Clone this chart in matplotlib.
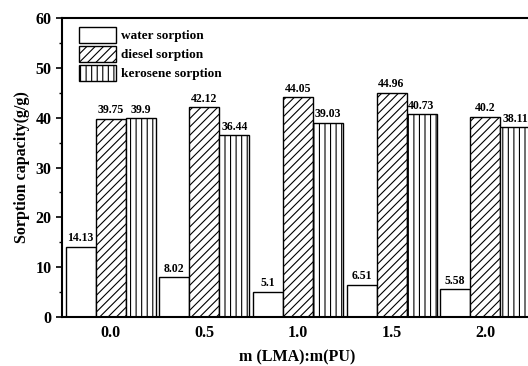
import numpy as np
import matplotlib.pyplot as plt
from matplotlib.ticker import MultipleLocator

plt.rcParams['font.family'] = 'Liberation Serif'
plt.rcParams['font.weight'] = 'bold'
plt.rcParams['hatch.linewidth'] = 0.8

# data
ratios = ['0.0', '0.5', '1.0', '1.5', '2.0']
water = [14.13, 8.02, 5.1, 6.51, 5.58]
diesel = [39.75, 42.12, 44.05, 44.96, 40.2]
kerosene = [39.9, 36.44, 39.03, 40.73, 38.11]

fig = plt.figure(figsize=(5.28, 3.66), dpi=100)
ax = fig.add_axes([62 / 528, 49 / 366, 470 / 528, 299 / 366])

x = np.arange(len(ratios))
w = 0.32
b1 = ax.bar(x - w, water, w, color='white', edgecolor='black', linewidth=1, label='water sorption')
b2 = ax.bar(x, diesel, w, color='white', edgecolor='black', linewidth=1, hatch='////', label='diesel sorption')
b3 = ax.bar(x + w, kerosene, w, color='white', edgecolor='black', linewidth=1, hatch='|||', label='kerosene sorption')

for bars, vals in [(b1, water), (b2, diesel), (b3, kerosene)]:
    for bar, v in zip(bars, vals):
        ax.text(bar.get_x() + bar.get_width() / 2, v + 0.5, f'{v:g}',
                ha='center', va='bottom', fontsize=8.5, fontweight='bold')

ax.set_xlim(-0.52, 4.5)
ax.set_ylim(0, 60)
ax.set_xticks(x)
ax.set_xticklabels(ratios)
ax.tick_params(axis='x', length=0, labelsize=11.5, pad=6)
ax.yaxis.set_major_locator(MultipleLocator(10))
ax.yaxis.set_minor_locator(MultipleLocator(5))
ax.tick_params(axis='y', which='major', length=4, width=1.2, labelsize=11.5, direction='out')
ax.tick_params(axis='y', which='minor', length=2.5, width=1.0, direction='out')
for s in ax.spines.values():
    s.set_linewidth(1.5)

ax.set_xlabel('m (LMA):m(PU)', fontsize=11.5, fontweight='bold', labelpad=6)
ax.set_ylabel('Sorption capacity(g/g)', fontsize=11.5, fontweight='bold')

ax.legend(loc='upper left', bbox_to_anchor=(0.0, 1.027), frameon=False, fontsize=9.5,
          handlelength=2.8, handleheight=1.5, labelspacing=0.2, borderaxespad=0.9,
          handletextpad=0.4)

fig.savefig('out.png', dpi=100)
